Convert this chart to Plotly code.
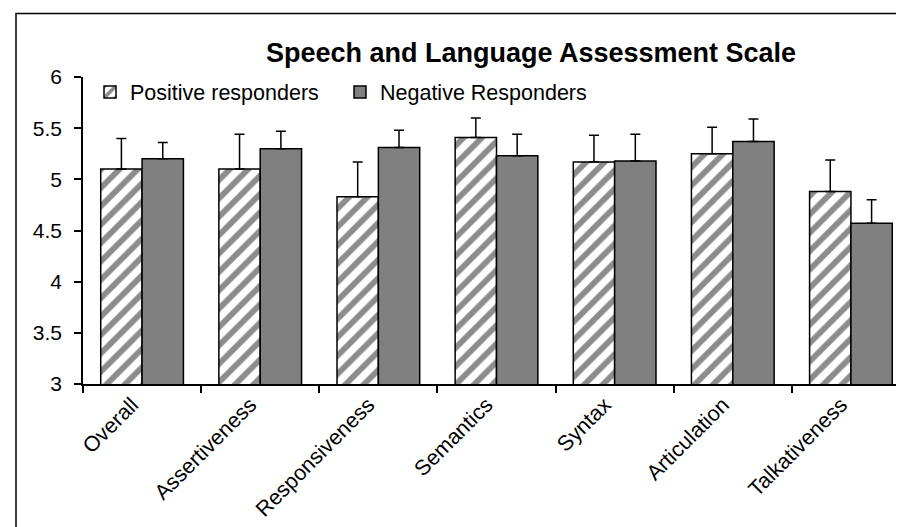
import plotly.graph_objects as go

categories = ["Overall", "Assertiveness", "Responsiveness", "Semantics", "Syntax", "Articulation", "Talkativeness"]
positive = [5.10, 5.10, 4.83, 5.41, 5.17, 5.25, 4.88]
positive_err = [0.30, 0.34, 0.34, 0.19, 0.26, 0.26, 0.31]
negative = [5.20, 5.30, 5.31, 5.23, 5.18, 5.37, 4.57]
negative_err = [0.16, 0.17, 0.17, 0.21, 0.26, 0.22, 0.23]
y_ticks = [3, 3.5, 4, 4.5, 5, 5.5, 6]
y_ticklabels = ["3", "3.5", "4", "4.5", "5", "5.5", "6"]

W, H = 904, 527
L, R, T, B = 75, 2, 69, 150.5
pw, ph = W - L - R, H - T - B

def px_x(x):
    return (x - L) / pw

def px_y(y):
    return (H - B - y) / ph

FONT = "Liberation Sans, Arial, sans-serif"

fig = go.Figure()
fig.add_trace(go.Bar(
    name="Positive responders", x=categories, y=positive,
    marker=dict(color="white", line=dict(color="black", width=1.5),
                pattern=dict(shape="/", fgcolor="#8c8c8c", bgcolor="white", size=13, solidity=0.45)),
    error_y=dict(type="data", array=positive_err, arrayminus=[0] * len(positive_err), symmetric=False,
                 color="black", thickness=1.5, width=5),
))
fig.add_trace(go.Bar(
    name="Negative Responders", x=categories, y=negative,
    marker=dict(color="#808080", line=dict(color="black", width=1.5)),
    error_y=dict(type="data", array=negative_err, arrayminus=[0] * len(negative_err), symmetric=False,
                 color="black", thickness=1.5, width=5),
))

fig.update_layout(
    template="none",
    width=W, height=H,
    margin=dict(l=L, r=R, t=T, b=B, pad=0),
    paper_bgcolor="white", plot_bgcolor="white",
    barmode="group", bargap=0.30, bargroupgap=0,
    font=dict(family=FONT, size=21, color="black"),
    title=dict(text="<b>Speech and Language Assessment Scale</b>", x=523 / W, xanchor="center",
               y=1 - 45 / H, yanchor="middle", font=dict(size=27, family=FONT, color="black")),
    legend=dict(orientation="h", x=px_x(82), xanchor="left", y=px_y(84), yanchor="middle",
                bgcolor="rgba(0,0,0,0)", font=dict(size=21.5, family=FONT),
                entrywidth=205, entrywidthmode="pixels", traceorder="normal", itemclick=False),
    xaxis=dict(showline=True, linecolor="black", linewidth=1.5, ticks="outside", tickson="boundaries",
               ticklen=7, tickcolor="black", tickwidth=1.5, tickangle=-45, showgrid=False,
               ticklabelshift=-10, ticklabelstandoff=-2,
               automargin=False, tickfont=dict(size=21.5), zeroline=False),
    yaxis=dict(range=[3, 6], tickvals=y_ticks, ticktext=y_ticklabels, showline=True, linecolor="black",
               linewidth=1.5, ticks="outside", ticklen=7, tickcolor="black", tickwidth=1.5,
               ticklabelstandoff=8,
               showgrid=False, zeroline=False, automargin=False, tickfont=dict(size=21)),
    shapes=[dict(type="rect", xref="paper", yref="paper", x0=px_x(8), x1=px_x(903), y0=px_y(545), y1=px_y(5.5),
                 line=dict(color="black", width=1.5), fillcolor="rgba(0,0,0,0)", layer="above")],
)

fig.write_html("out.html")
